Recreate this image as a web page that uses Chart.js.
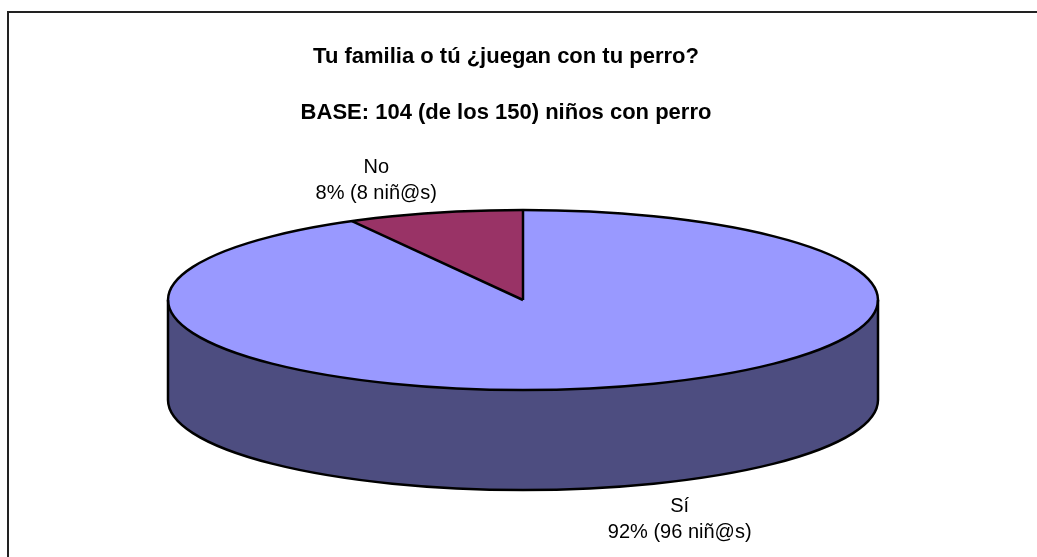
<!DOCTYPE html>
<html lang="es">
<head>
<meta charset="UTF-8">
<title>Tu familia o tú ¿juegan con tu perro?</title>
<script src="https://cdn.jsdelivr.net/npm/chart.js"></script>
<style>
  html, body { margin: 0; padding: 0; background: #fff; }
  .chart-box { width: 1037px; height: 557px; position: relative; }
</style>
</head>
<body>
<div class="chart-box"><canvas id="pieChart"></canvas></div>
<script>
// data
const categories = ['Sí', 'No'];
const percents = [92, 8];
const kids = [96, 8];
const titleLines = ['Tu familia o tú ¿juegan con tu perro?', 'BASE: 104 (de los 150) niños con perro'];

const topColors = ['#9999FF', '#993366'];
const sideColors = ['#4D4D80', '#4D1A33'];

// where the tilted pie sits on the page
const PIE = { cx: 523, cy: 300, rx: 355, ry: 90, depth: 100, labelRx: 610, labelRy: 123, labelDx: 5 };
const FONT = 'Arial, "Liberation Sans", sans-serif';

// pieces of an arc that face the viewer (lower half of the ellipse)
function frontParts(s, e) {
  const out = [];
  for (let k = -1; k <= 1; k++) {
    const lo = Math.max(s, k * 2 * Math.PI);
    const hi = Math.min(e, k * 2 * Math.PI + Math.PI);
    if (hi > lo) out.push([lo, hi]);
  }
  return out;
}

function isFront(a) {
  const n = ((a % (2 * Math.PI)) + 2 * Math.PI) % (2 * Math.PI);
  return n > 0 && n < Math.PI;
}

const pie3d = {
  id: 'pie3d',
  beforeDraw(chart) {
    const ctx = chart.ctx;
    ctx.save();
    ctx.strokeStyle = '#222';
    ctx.lineWidth = 2;
    ctx.strokeRect(8, 12, chart.width + 40, chart.height + 40);
    ctx.restore();
  },
  beforeDatasetsDraw(chart) {
    const ctx = chart.ctx;
    const arcs = chart.getDatasetMeta(0).data;

    // side walls
    ctx.save();
    arcs.forEach((arc, i) => {
      frontParts(arc.startAngle, arc.endAngle).forEach(([a0, a1]) => {
        ctx.beginPath();
        ctx.ellipse(PIE.cx, PIE.cy, PIE.rx, PIE.ry, 0, a0, a1);
        ctx.ellipse(PIE.cx, PIE.cy + PIE.depth, PIE.rx, PIE.ry, 0, a1, a0, true);
        ctx.closePath();
        ctx.fillStyle = sideColors[i];
        ctx.fill();
      });
    });
    ctx.restore();

    // squash the library's round pie onto the ellipse
    const a = arcs[0];
    ctx.save();
    ctx.translate(PIE.cx, PIE.cy);
    ctx.scale(PIE.rx / a.outerRadius, PIE.ry / a.outerRadius);
    ctx.translate(-a.x, -a.y);
  },
  afterDatasetsDraw(chart) {
    const ctx = chart.ctx;
    ctx.restore();
    const arcs = chart.getDatasetMeta(0).data;

    ctx.save();
    ctx.strokeStyle = '#000';
    ctx.lineWidth = 2.5;
    ctx.lineJoin = 'round';

    // front edge of the wall
    ctx.beginPath();
    ctx.moveTo(PIE.cx + PIE.rx, PIE.cy);
    ctx.lineTo(PIE.cx + PIE.rx, PIE.cy + PIE.depth);
    ctx.ellipse(PIE.cx, PIE.cy + PIE.depth, PIE.rx, PIE.ry, 0, 0, Math.PI);
    ctx.lineTo(PIE.cx - PIE.rx, PIE.cy);
    ctx.stroke();

    // top rim
    ctx.beginPath();
    ctx.ellipse(PIE.cx, PIE.cy, PIE.rx, PIE.ry, 0, 0, 2 * Math.PI);
    ctx.stroke();

    // slice edges
    arcs.forEach(arc => {
      const px = PIE.cx + PIE.rx * Math.cos(arc.startAngle);
      const py = PIE.cy + PIE.ry * Math.sin(arc.startAngle);
      ctx.beginPath();
      ctx.moveTo(PIE.cx, PIE.cy);
      ctx.lineTo(px, py);
      if (isFront(arc.startAngle)) {
        ctx.moveTo(px, py);
        ctx.lineTo(px, py + PIE.depth);
      }
      ctx.stroke();
    });
    ctx.restore();
  },
  afterDraw(chart) {
    const ctx = chart.ctx;
    const arcs = chart.getDatasetMeta(0).data;
    ctx.save();
    ctx.fillStyle = '#000';
    ctx.font = '20px ' + FONT;
    ctx.textAlign = 'center';
    ctx.textBaseline = 'middle';
    arcs.forEach((arc, i) => {
      const mid = (arc.startAngle + arc.endAngle) / 2;
      const c = Math.cos(mid), s = Math.sin(mid);
      const x = PIE.cx + PIE.labelDx + PIE.labelRx * c;
      const y = PIE.cy + PIE.labelRy * s + (s > 0 ? PIE.depth : 0);
      ctx.fillText(categories[i], x, y - 13);
      ctx.fillText(`${percents[i]}% (${kids[i]} niñ@s)`, x, y + 13);
    });
    ctx.restore();
  }
};

new Chart(document.getElementById('pieChart'), {
  type: 'pie',
  data: {
    labels: categories,
    datasets: [{
      data: percents,
      backgroundColor: topColors,
      borderWidth: 0
    }]
  },
  options: {
    responsive: true,
    maintainAspectRatio: false,
    animation: false,
    events: [],
    layout: { padding: { right: 25 } },
    plugins: {
      legend: { display: false },
      tooltip: { enabled: false },
      title: {
        display: true,
        text: titleLines,
        color: '#000',
        font: { family: FONT, size: 22, weight: 'bold', lineHeight: 2.545 },
        padding: { top: 29, bottom: 10 }
      }
    }
  },
  plugins: [pie3d]
});
</script>
</body>
</html>
